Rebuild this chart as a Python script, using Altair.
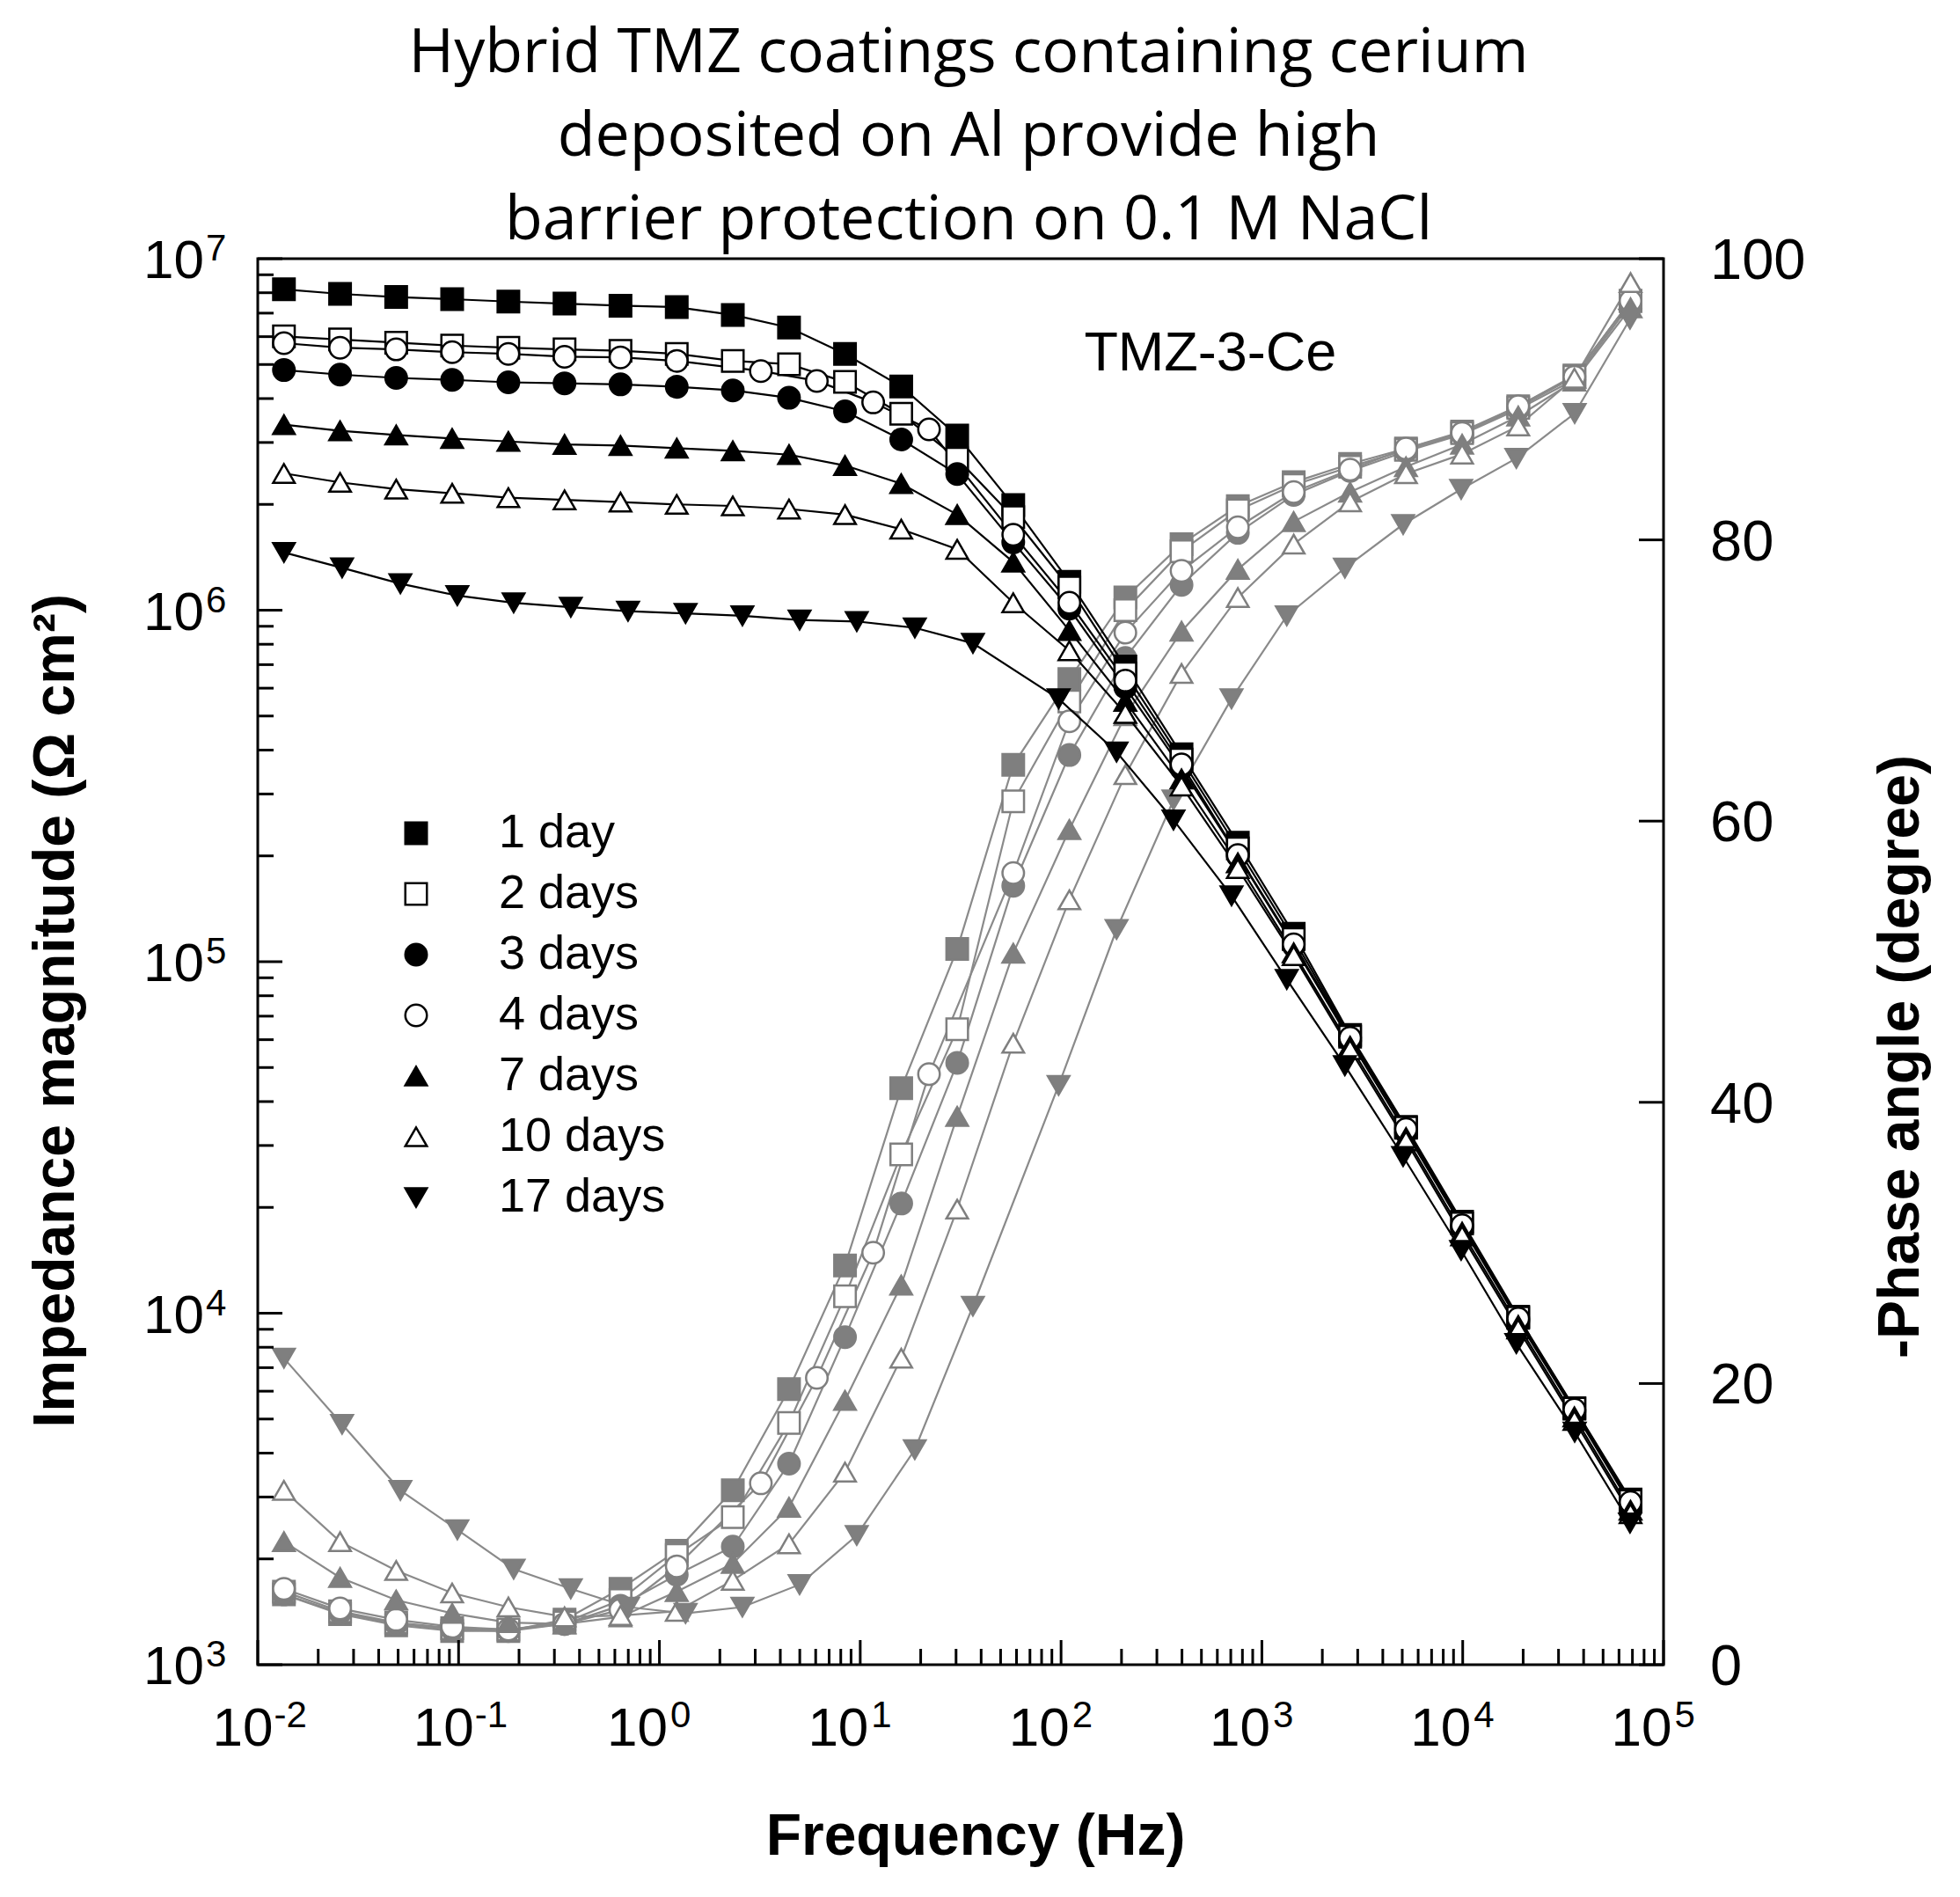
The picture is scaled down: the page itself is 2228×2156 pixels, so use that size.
import altair as alt
import pandas as pd

# ---------------- data ----------------
SERIES = ["1 day", "2 days", "3 days", "4 days", "7 days", "10 days", "17 days"]

FREQ_STD = [0.0135, 0.0257, 0.0489, 0.0929, 0.177, 0.337, 0.640, 1.22, 2.32, 4.42, 8.40, 16.0,
            30.4, 57.8, 110, 209, 398, 759, 1440, 2750, 5220, 9930, 18900, 36000, 68500]
FREQ_4D = [0.0135, 0.0257, 0.0489, 0.0929, 0.177, 0.337, 0.640, 1.22, 3.20, 6.08, 11.6, 22.0,
           57.8, 110, 209, 398, 759, 1440, 2750, 5220, 9930, 18900, 36000, 68500]
FREQ_17D = [0.0135, 0.0263, 0.0513, 0.0986, 0.188, 0.362, 0.698, 1.35, 2.59, 4.99, 9.61, 18.7,
            36.4, 97.2, 189, 363, 706, 1330, 2590, 5050, 9820, 18500, 36100, 68100]

Z_1D = [8.18e6, 7.94e6, 7.78e6, 7.67e6, 7.55e6, 7.45e6, 7.35e6, 7.28e6, 6.92e6, 6.37e6, 5.36e6, 4.33e6,
        3.14e6, 1.99e6, 1.205e6, 6.92e5, 3.89e5, 2.18e5, 1.20e5, 6.19e4, 3.39e4, 1.82e4, 9.77e3, 5.37e3, 2.95e3]
Z_2D = [6.01e6, 5.89e6, 5.77e6, 5.66e6, 5.58e6, 5.52e6, 5.47e6, 5.36e6, 5.12e6, 5.01e6, 4.46e6, 3.62e6,
        2.70e6, 1.84e6, 1.16e6, 6.61e5, 3.76e5, 2.10e5, 1.16e5, 6.12e4, 3.37e4, 1.80e4, 9.70e3, 5.35e3, 2.92e3]
Z_3D = [4.82e6, 4.68e6, 4.58e6, 4.52e6, 4.45e6, 4.42e6, 4.39e6, 4.32e6, 4.22e6, 4.02e6, 3.68e6, 3.06e6,
        2.44e6, 1.56e6, 1.01e6, 6.03e5, 3.55e5, 2.00e5, 1.11e5, 5.96e4, 3.27e4, 1.76e4, 9.51e3, 5.25e3, 2.85e3]
Z_4D = [5.75e6, 5.58e6, 5.52e6, 5.42e6, 5.36e6, 5.26e6, 5.24e6, 5.12e6, 4.79e6, 4.49e6, 3.90e6, 3.27e6,
        1.64e6, 1.05e6, 6.31e5, 3.64e5, 2.01e5, 1.12e5, 6.07e4, 3.34e4, 1.78e4, 9.66e3, 5.32e3, 2.90e3]
Z_7D = [3.37e6, 3.24e6, 3.15e6, 3.08e6, 3.02e6, 2.96e6, 2.94e6, 2.89e6, 2.84e6, 2.77e6, 2.58e6, 2.29e6,
        1.87e6, 1.37e6, 8.75e5, 5.50e5, 3.31e5, 1.91e5, 1.06e5, 5.75e4, 3.16e4, 1.70e4, 9.23e3, 5.07e3, 2.75e3]
Z_10D = [2.45e6, 2.31e6, 2.21e6, 2.15e6, 2.09e6, 2.06e6, 2.03e6, 2.00e6, 1.98e6, 1.94e6, 1.87e6, 1.70e6,
         1.49e6, 1.05e6, 7.67e5, 5.08e5, 3.16e5, 1.84e5, 1.04e5, 5.62e4, 3.09e4, 1.66e4, 9.02e3, 4.95e3, 2.69e3]
Z_17D = [1.46e6, 1.32e6, 1.19e6, 1.10e6, 1.05e6, 1.02e6, 9.93e5, 9.79e5, 9.64e5, 9.38e5, 9.29e5, 8.91e5,
         8.05e5, 5.60e5, 3.95e5, 2.53e5, 1.54e5, 8.91e4, 5.06e4, 2.79e4, 1.51e4, 8.20e3, 4.59e3, 2.53e3]

PH_1D = [5.0, 3.6, 2.8, 2.4, 2.4, 3.2, 5.4, 8.1, 12.4, 19.6, 28.4, 41.0, 50.9, 64.0, 70.1, 75.9, 79.7,
         82.4, 84.1, 85.4, 86.5, 87.7, 89.5, 91.7, 97.0]
PH_2D = [5.2, 3.8, 3.0, 2.6, 2.5, 3.0, 4.6, 7.8, 10.5, 17.2, 26.2, 36.3, 45.2, 61.4, 68.5, 75.0, 79.2,
         82.1, 83.9, 85.2, 86.4, 87.6, 89.4, 91.6, 97.0]
PH_3D = [5.0, 3.7, 2.9, 2.5, 2.4, 2.9, 4.2, 6.4, 8.4, 14.3, 23.3, 32.8, 42.8, 55.4, 64.7, 71.6, 76.8,
         80.5, 83.2, 84.9, 86.3, 87.5, 89.3, 91.4, 96.8]
PH_4D = [5.4, 4.0, 3.2, 2.7, 2.5, 2.9, 3.9, 7.0, 12.9, 20.4, 29.3, 42.0, 56.3, 67.1, 73.4, 77.8, 80.9,
         83.4, 85.0, 86.5, 87.6, 89.5, 91.6, 97.0]
PH_7D = [8.75, 6.2, 4.6, 3.65, 3.0, 2.9, 3.4, 5.2, 7.2, 11.2, 18.8, 27.0, 39.0, 50.6, 59.4, 67.5, 73.5,
         77.9, 81.3, 83.4, 85.2, 86.8, 88.8, 91.3, 96.5]
PH_10D = [12.4, 8.75, 6.7, 5.1, 4.1, 3.4, 3.5, 3.8, 6.0, 8.6, 13.7, 21.8, 32.4, 44.2, 54.4, 63.3, 70.5,
          75.9, 79.7, 82.7, 84.7, 86.1, 88.1, 91.5, 98.3]
PH_17D = [21.8, 17.1, 12.4, 9.6, 6.8, 5.4, 4.1, 3.65, 4.1, 5.7, 9.2, 15.3, 25.5, 41.2, 52.3, 61.5, 68.7,
          74.6, 78.0, 81.1, 83.6, 85.8, 89.0, 95.7]

ANN_TEXT = ["TMZ-3-Ce"]
ANN_F = [554]
ANN_Z = [5.37e6]

TITLE_LINES = ["Hybrid TMZ coatings containing cerium",
               "deposited on Al provide high",
               "barrier protection on 0.1 M NaCl"]
X_TITLE = ["Frequency (Hz)"]
Z_TITLE = ["Impedance magnitude (Ω cm²)"]
P_TITLE = ["-Phase angle (degree)"]

# tick positions and tick labels
X_MAJOR = [1e-2, 1e-1, 1, 10, 100, 1e3, 1e4, 1e5]
X_MINOR = [m * 10.0 ** e for e in range(-2, 5) for m in range(2, 10)]
X_LAB_NEG = [1e-2, 1e-1]
X_EXP_NEG = ["-2", "-1"]
X_LAB_POS = [1, 10, 100, 1e3, 1e4, 1e5]
X_EXP_POS = ["0", "1", "2", "3", "4", "5"]
Z_MAJOR = [1e3, 1e4, 1e5, 1e6, 1e7]
Z_EXP = ["3", "4", "5", "6", "7"]
Z_MINOR = [m * 10.0 ** e for e in range(3, 7) for m in range(2, 10)]
P_MAJOR = [0, 20, 40, 60, 80, 100]

# ---------------- styles ----------------
SHAPES = ["square", "square", "circle", "circle", "triangle-up", "triangle-up", "triangle-down"]
Z_FILLS = ["black", "white", "black", "white", "black", "white", "black"]
GRAY = "#7f7f7f"
P_FILLS = [GRAY, "white", GRAY, "white", GRAY, "white", GRAY]
SIZES = [600, 600, 1100, 1100, 1000, 1250, 1000]

W = 1598
H = 1598
FONT = "Liberation Sans"
BASE_FS = 62
EXP_FS = 42

# ---------------- tables ----------------
freqs = [FREQ_STD, FREQ_STD, FREQ_STD, FREQ_4D, FREQ_STD, FREQ_STD, FREQ_17D]
zs = [Z_1D, Z_2D, Z_3D, Z_4D, Z_7D, Z_10D, Z_17D]
phs = [PH_1D, PH_2D, PH_3D, PH_4D, PH_7D, PH_10D, PH_17D]
rows = []
for s, fr, zz, pp in zip(SERIES, freqs, zs, phs):
    for f, z, p in zip(fr, zz, pp):
        rows.append({"series": s, "freq": f, "z": z, "phase": p})
df = pd.DataFrame(rows)

ann = pd.DataFrame({"t": ANN_TEXT, "f": ANN_F, "z": ANN_Z})
xmaj = pd.DataFrame({"v": X_MAJOR})
xmin = pd.DataFrame({"v": X_MINOR})
xneg = pd.DataFrame({"v": X_LAB_NEG, "e": X_EXP_NEG, "b": ["10"] * len(X_LAB_NEG)})
xpos = pd.DataFrame({"v": X_LAB_POS, "e": X_EXP_POS, "b": ["10"] * len(X_LAB_POS)})
zmaj = pd.DataFrame({"v": Z_MAJOR, "e": Z_EXP, "b": ["10"] * len(Z_MAJOR)})
zmin = pd.DataFrame({"v": Z_MINOR})
pmaj = pd.DataFrame({"v": P_MAJOR, "t": [str(p) for p in P_MAJOR]})

x_scale = alt.Scale(type="log", domain=[1e-2, 1e5], nice=False)
z_scale = alt.Scale(type="log", domain=[1e3, 1e7], nice=False)
p_scale = alt.Scale(domain=[0, 100], nice=False, zero=False)

X = alt.X("freq:Q", scale=x_scale, axis=None)
XV = alt.X("v:Q", scale=x_scale, axis=None)

leg = alt.Legend(orient="none", legendX=153, legendY=626, title=None, labelFont=FONT,
                 labelFontSize=54, labelColor="black", symbolStrokeWidth=2.5, labelOffset=67,
                 rowPadding=15, padding=0, labelLimit=0)

# ---------------- phase (gray, right scale) ----------------
ph_line = alt.Chart(df).mark_line(color="#8a8a8a", strokeWidth=2.2).encode(
    x=X, y=alt.Y("phase:Q", scale=p_scale, axis=None), detail="series:N")
ph_pts = alt.Chart(df).mark_point(filled=True, strokeWidth=2.5, opacity=1).encode(
    x=X,
    y=alt.Y("phase:Q", scale=p_scale, axis=None),
    fill=alt.Fill("series:N", scale=alt.Scale(domain=SERIES, range=P_FILLS), legend=None),
    stroke=alt.Stroke("series:N", scale=alt.Scale(domain=SERIES, range=[GRAY] * 7), legend=None),
    shape=alt.Shape("series:N", scale=alt.Scale(domain=SERIES, range=SHAPES), legend=None),
    size=alt.Size("series:N", scale=alt.Scale(domain=SERIES, range=SIZES), legend=None),
)
p_ticks = alt.Chart(pmaj).mark_rule(color="black", strokeWidth=3).encode(
    y=alt.Y("v:Q", scale=p_scale, axis=None), x=alt.value(W), x2=alt.value(W - 28))
p_labels = alt.Chart(pmaj).mark_text(font=FONT, fontSize=65, align="left", baseline="alphabetic",
                                     dy=23, color="black").encode(
    y=alt.Y("v:Q", scale=p_scale, axis=None), x=alt.value(W + 53), text="t:N")
p_title = alt.Chart(pd.DataFrame({"t": P_TITLE})).mark_text(
    font=FONT, fontSize=66, fontWeight="bold", angle=270, align="center", baseline="middle",
    color="black").encode(x=alt.value(1868), y=alt.value(907), text="t:N")
phase_layer = alt.layer(ph_line, ph_pts, p_ticks, p_labels, p_title)

# ---------------- impedance (black, left scale) ----------------
z_line = alt.Chart(df).mark_line(color="black", strokeWidth=2.2).encode(
    x=X, y=alt.Y("z:Q", scale=z_scale, axis=None), detail="series:N")
z_pts = alt.Chart(df).mark_point(filled=True, strokeWidth=2.5, opacity=1).encode(
    x=X,
    y=alt.Y("z:Q", scale=z_scale, axis=None),
    fill=alt.Fill("series:N", scale=alt.Scale(domain=SERIES, range=Z_FILLS), legend=leg),
    stroke=alt.Stroke("series:N", scale=alt.Scale(domain=SERIES, range=["black"] * 7), legend=leg),
    shape=alt.Shape("series:N", scale=alt.Scale(domain=SERIES, range=SHAPES), legend=leg),
    size=alt.Size("series:N", scale=alt.Scale(domain=SERIES, range=SIZES), legend=leg),
)
xt_major = alt.Chart(xmaj).mark_rule(color="black", strokeWidth=3).encode(
    x=XV, y=alt.value(H), y2=alt.value(H - 28))
xt_minor = alt.Chart(xmin).mark_rule(color="black", strokeWidth=3).encode(
    x=XV, y=alt.value(H), y2=alt.value(H - 18))
zt_major = alt.Chart(zmaj).mark_rule(color="black", strokeWidth=3).encode(
    y=alt.Y("v:Q", scale=z_scale, axis=None), x=alt.value(0), x2=alt.value(28))
zt_minor = alt.Chart(zmin).mark_rule(color="black", strokeWidth=3).encode(
    y=alt.Y("v:Q", scale=z_scale, axis=None), x=alt.value(0), x2=alt.value(18))


def txt(data, size, align, dx=0, dy=0):
    return alt.Chart(data).mark_text(font=FONT, fontSize=size, align=align, baseline="alphabetic",
                                     dx=dx, dy=dy, color="black")


xneg_base = txt(xneg, BASE_FS, "right", dx=17.5).encode(x=XV, y=alt.value(H + 92), text="b:N")
xneg_exp = txt(xneg, EXP_FS, "left", dx=18.5).encode(x=XV, y=alt.value(H + 71), text="e:N")
xpos_base = txt(xpos, BASE_FS, "right", dx=9.5).encode(x=XV, y=alt.value(H + 92), text="b:N")
xpos_exp = txt(xpos, EXP_FS, "left", dx=12.5).encode(x=XV, y=alt.value(H + 71), text="e:N")
zl_base = txt(zmaj, BASE_FS, "right", dy=22).encode(
    y=alt.Y("v:Q", scale=z_scale, axis=None), x=alt.value(-61), text="b:N")
zl_exp = txt(zmaj, EXP_FS, "left", dy=2).encode(
    y=alt.Y("v:Q", scale=z_scale, axis=None), x=alt.value(-59), text="e:N")
x_title = alt.Chart(pd.DataFrame({"t": X_TITLE})).mark_text(
    font=FONT, fontSize=66, fontWeight="bold", align="center", baseline="middle",
    color="black").encode(x=alt.value(816), y=alt.value(H + 196), text="t:N")
z_title = alt.Chart(pd.DataFrame({"t": Z_TITLE})).mark_text(
    font=FONT, fontSize=66, fontWeight="bold", angle=270, align="center", baseline="middle",
    color="black").encode(x=alt.value(-229), y=alt.value(855), text="t:N")
ann_text = alt.Chart(ann).mark_text(font=FONT, fontSize=63, align="center", baseline="middle",
                                     color="black").encode(
    x=alt.X("f:Q", scale=x_scale, axis=None),
    y=alt.Y("z:Q", scale=z_scale, axis=None),
    text="t:N",
)
z_layer = alt.layer(z_line, z_pts, xt_major, xt_minor, zt_major, zt_minor,
                    xneg_base, xneg_exp, xpos_base, xpos_exp, zl_base, zl_exp,
                    x_title, z_title, ann_text)

chart = alt.layer(phase_layer, z_layer).resolve_scale(
    y="independent", fill="independent", stroke="independent", shape="independent", size="independent"
).properties(
    width=W, height=H,
    background="white",
    title=alt.TitleParams(text=TITLE_LINES, font="Open Sans", fontSize=70, fontWeight="normal",
                          lineHeight=95, anchor="middle", offset=-25, color="black", dx=9),
    padding={"left": 23, "top": 18, "right": 10, "bottom": 10},
).configure_view(stroke="black", strokeWidth=3)

chart.save("out.html", embed_options={"renderer": "svg", "actions": False})
